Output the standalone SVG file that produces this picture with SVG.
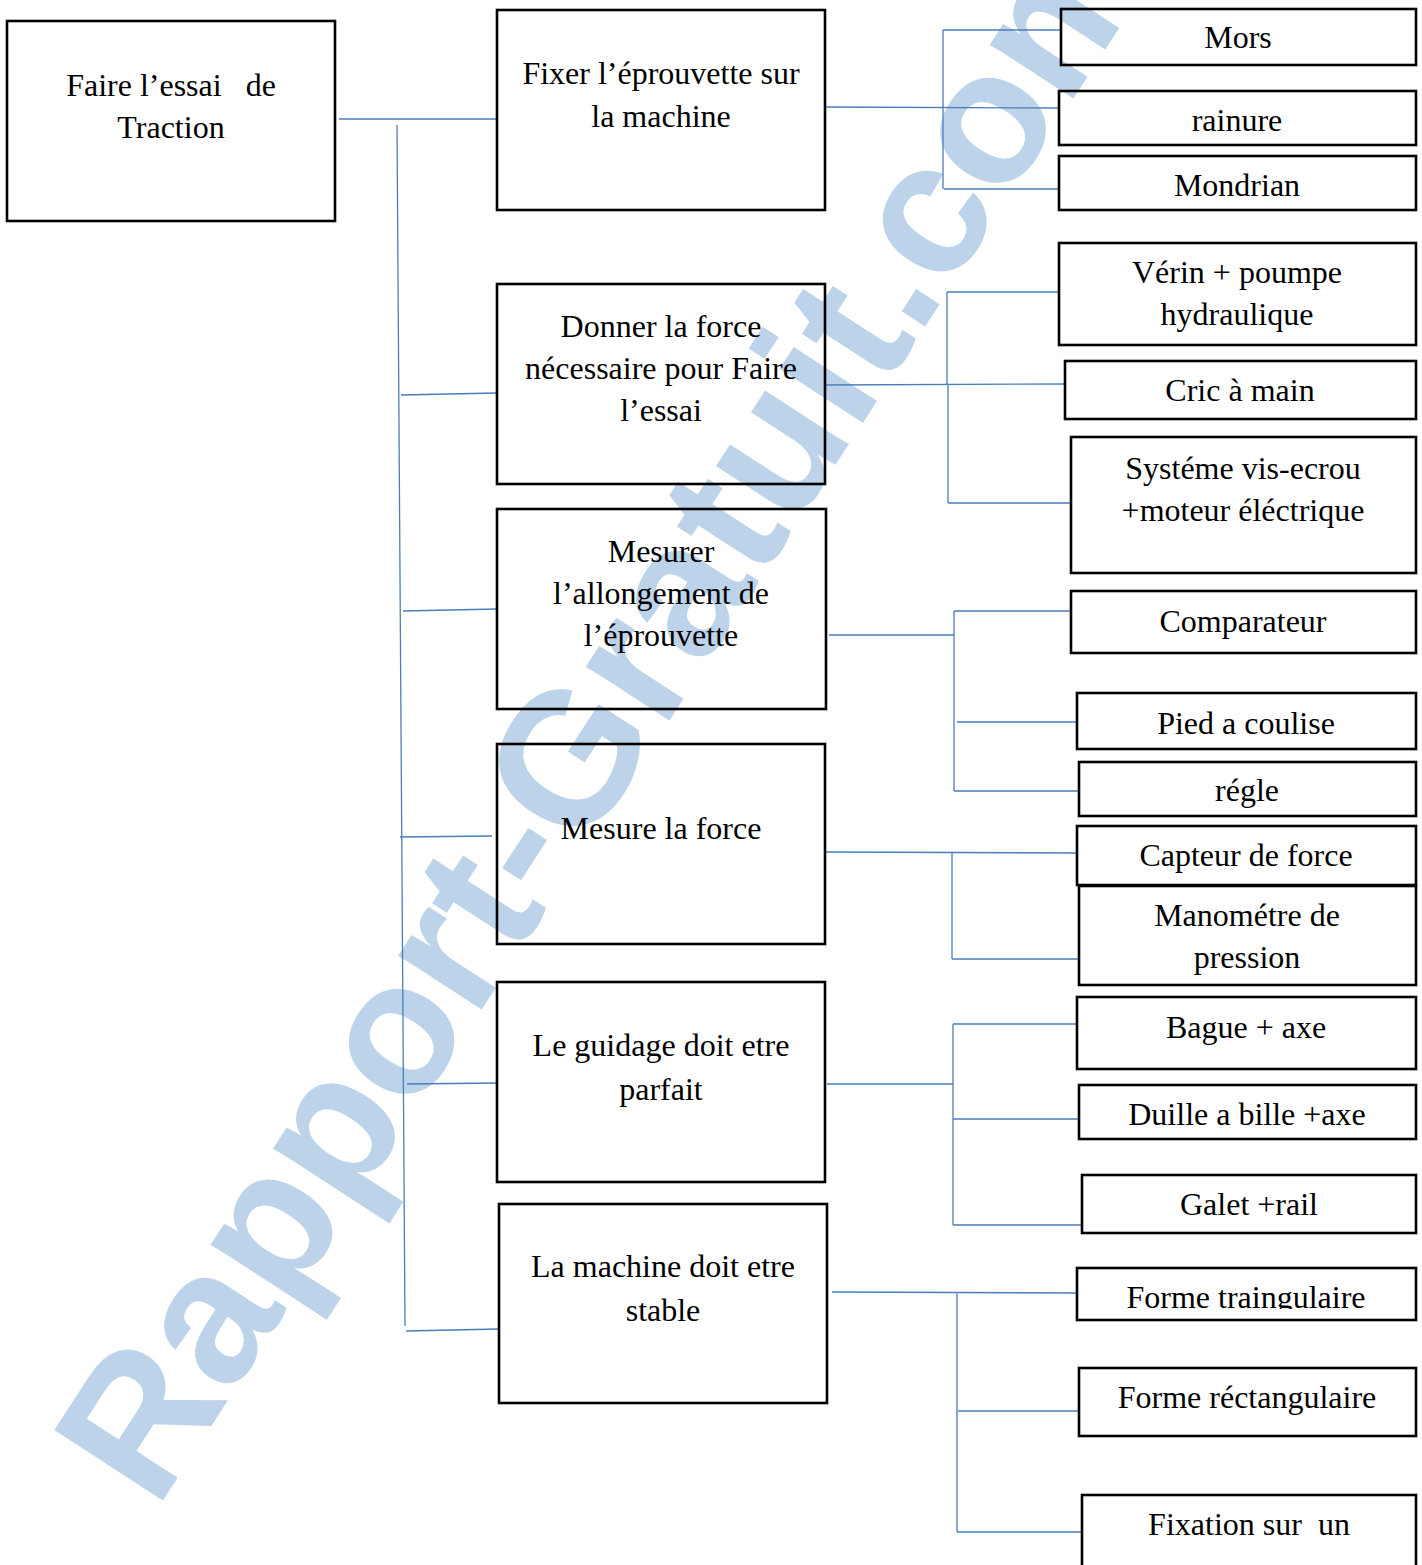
<svg xmlns="http://www.w3.org/2000/svg" width="1422" height="1565" viewBox="0 0 1422 1565">
<style>
.box{fill:none;stroke:#000;stroke-width:2.6}
.t{font-family:"Liberation Serif","Times New Roman",serif;font-size:32px;fill:#000;text-anchor:middle;white-space:pre}
.c{fill:none;stroke:#4a7ebb;stroke-width:1.3}
.wm{font-family:"Liberation Sans",Arial,sans-serif;font-weight:bold;font-size:188px;fill:#bcd3ea}
</style>
<defs>
<clipPath id="clipTri"><rect x="1077" y="1267" width="345" height="42"/></clipPath>
</defs>
<rect width="1422" height="1565" fill="#fff"/>
<text class="wm" transform="translate(156,1511) rotate(-57)" x="0" y="0">Rapport-Gratuit.com</text>

<g id="connectors">
<path class="c" d="M339 119H497M397 125L405 1326M401 395L497 393M403 611L497 609M400 837L492 836M407 1084L497 1083M406 1331L499 1329"/>
<path class="c" d="M825 107L1058 108M943 30V189M943 30H1061M944 189H1059"/>
<path class="c" d="M825 385L1065 384M947 292V385M948 385V503M947 292H1059M948 503H1071"/>
<path class="c" d="M829 635H954M954 611V791M954 611H1071M957 722H1077M954 791H1079"/>
<path class="c" d="M825 852L1077 853M952 852V959M952 959H1079"/>
<path class="c" d="M827 1084H953M953 1024V1225M953 1024H1077M953 1119H1079M953 1225H1082"/>
<path class="c" d="M832 1292L1077 1293M957 1292V1532M958 1411H1079M957 1532H1082"/>
</g>

<g id="root"><rect class="box" x="7" y="21" width="328" height="200"/>
<text class="t" x="171" y="96" xml:space="preserve">Faire l’essai   de</text>
<text class="t" x="171" y="138">Traction</text></g>

<g id="n1"><rect class="box" x="497" y="10" width="328" height="200"/>
<text class="t" x="661" y="84">Fixer l’éprouvette sur</text>
<text class="t" x="661" y="127">la machine</text></g>

<g id="n2"><rect class="box" x="497" y="284" width="328" height="200"/>
<text class="t" x="661" y="337">Donner la force</text>
<text class="t" x="661" y="379">nécessaire pour Faire</text>
<text class="t" x="661" y="421">l’essai</text></g>

<g id="n3"><rect class="box" x="497" y="509" width="329" height="200"/>
<text class="t" x="661" y="562">Mesurer</text>
<text class="t" x="661" y="604">l’allongement de</text>
<text class="t" x="661" y="646">l’éprouvette</text></g>

<g id="n4"><rect class="box" x="497" y="744" width="328" height="200"/>
<text class="t" x="661" y="839">Mesure la force</text></g>

<g id="n5"><rect class="box" x="497" y="982" width="328" height="200"/>
<text class="t" x="661" y="1056">Le guidage doit etre</text>
<text class="t" x="661" y="1100">parfait</text></g>

<g id="n6"><rect class="box" x="499" y="1204" width="328" height="199"/>
<text class="t" x="663" y="1277">La machine doit etre</text>
<text class="t" x="663" y="1321">stable</text></g>

<g id="mors"><rect class="box" x="1061" y="9" width="355" height="56"/>
<text class="t" x="1238" y="48">Mors</text></g>
<g id="rainure"><rect class="box" x="1059" y="91" width="357" height="54"/>
<text class="t" x="1237" y="131">rainure</text></g>
<g id="mondrian"><rect class="box" x="1059" y="156" width="357" height="54"/>
<text class="t" x="1237" y="196">Mondrian</text></g>

<g id="verin"><rect class="box" x="1059" y="243" width="357" height="102"/>
<text class="t" x="1237" y="283">Vérin + poumpe</text>
<text class="t" x="1237" y="325">hydraulique</text></g>
<g id="cric"><rect class="box" x="1065" y="361" width="351" height="58"/>
<text class="t" x="1240" y="401">Cric à main</text></g>
<g id="systeme"><rect class="box" x="1071" y="437" width="345" height="136"/>
<text class="t" x="1243" y="479">Systéme vis-ecrou</text>
<text class="t" x="1243" y="521">+moteur éléctrique</text></g>

<g id="comparateur"><rect class="box" x="1071" y="591" width="345" height="62"/>
<text class="t" x="1243" y="632">Comparateur</text></g>
<g id="pied"><rect class="box" x="1077" y="693" width="339" height="56"/>
<text class="t" x="1246" y="734">Pied a coulise</text></g>
<g id="regle"><rect class="box" x="1079" y="762" width="337" height="54"/>
<text class="t" x="1247" y="801">régle</text></g>

<g id="capteur"><rect class="box" x="1077" y="826" width="339" height="59"/>
<text class="t" x="1246" y="866">Capteur de force</text></g>
<g id="manometre"><rect class="box" x="1079" y="886" width="337" height="99"/>
<text class="t" x="1247" y="926">Manométre de</text>
<text class="t" x="1247" y="968">pression</text></g>

<g id="bague"><rect class="box" x="1077" y="997" width="339" height="72"/>
<text class="t" x="1246" y="1038">Bague + axe</text></g>
<g id="douille"><rect class="box" x="1079" y="1085" width="337" height="54"/>
<text class="t" x="1247" y="1125">Duille a bille +axe</text></g>
<g id="galet"><rect class="box" x="1082" y="1175" width="334" height="58"/>
<text class="t" x="1249" y="1215">Galet +rail</text></g>

<g id="triang"><rect class="box" x="1077" y="1268" width="339" height="52"/>
<text class="t" x="1246" y="1308" clip-path="url(#clipTri)">Forme traingulaire</text></g>
<g id="rect"><rect class="box" x="1079" y="1368" width="337" height="68"/>
<text class="t" x="1247" y="1408">Forme réctangulaire</text></g>
<g id="fixation"><rect class="box" x="1082" y="1495" width="334" height="80"/>
<text class="t" x="1249" y="1535" xml:space="preserve">Fixation sur  un</text></g>
</svg>
